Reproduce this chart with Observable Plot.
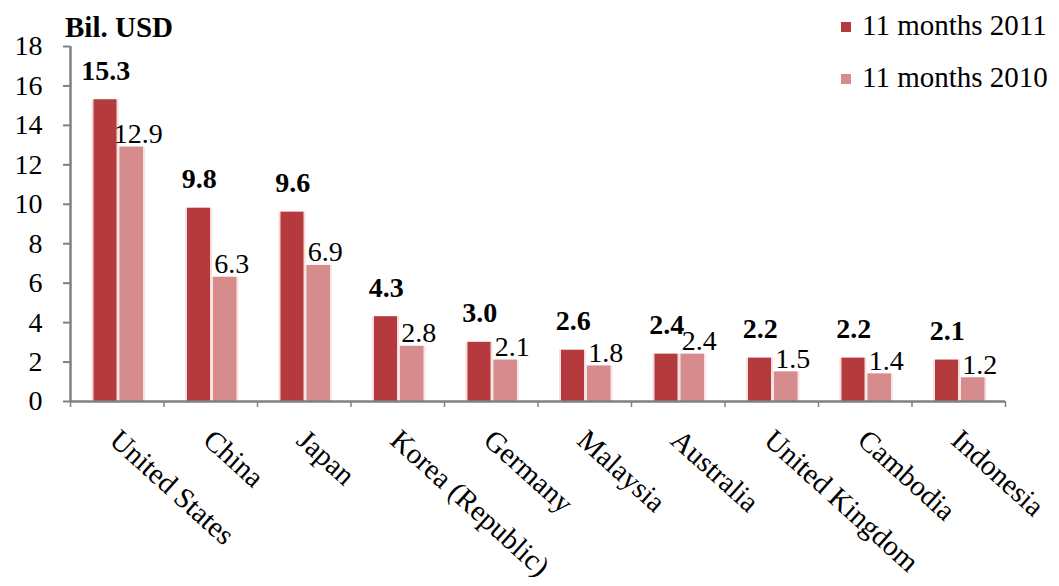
<!DOCTYPE html>
<html>
<head>
<meta charset="utf-8">
<script src="https://cdn.jsdelivr.net/npm/d3@7"></script>
<script src="https://cdn.jsdelivr.net/npm/@observablehq/plot@0.6"></script>
<style>
  body { margin: 0; background: #fff; }
  #wrap { position: relative; width: 1059px; height: 586px; font-family: "Liberation Serif", serif; color: #000; }
  #wrap svg { position: absolute; left: 0; top: 0; }
  .ov { position: absolute; line-height: 30px; font-size: 29px; white-space: nowrap; font-family: "Liberation Serif", serif; }
  .sw { position: absolute; width: 10px; height: 10px; }
</style>
</head>
<body>
<div id="wrap"></div>
<script>
const countries = ["United States", "China", "Japan", "Korea (Republic)", "Germany", "Malaysia", "Australia", "United Kingdom", "Cambodia", "Indonesia"];
const values2011 = [15.3, 9.8, 9.6, 4.3, 3.0, 2.6, 2.4, 2.2, 2.2, 2.1];
const values2010 = [12.9, 6.3, 6.9, 2.8, 2.1, 1.8, 2.4, 1.5, 1.4, 1.2];
const yTicks = [0, 2, 4, 6, 8, 10, 12, 14, 16, 18];
const seriesNames = ["11 months 2011", "11 months 2010"];
const seriesColors = ["#b43a3e", "#d68c8c"];
const unitLabel = "Bil. USD";

const FONT = "Liberation Serif";
const data = countries.map((c, i) => ({ country: c, i, v2011: values2011[i], v2010: values2010[i] }));
const boundaries = d3.range(countries.length + 1);

const plot = Plot.plot({
  width: 1059,
  height: 586,
  marginLeft: 70,
  marginRight: 54,
  marginTop: 46,
  marginBottom: 185,
  style: { fontFamily: FONT, fontSize: "27px", color: "#000", background: "transparent", overflow: "visible" },
  x: { domain: [0, countries.length], axis: null },
  y: { domain: [0, 18], axis: null },
  marks: [
    // soft glow behind bars
    Plot.rectY(data, { x1: "i", x2: d => d.i + 1, y: "v2011", fill: "#f7dede", insetLeft: 21.5, insetRight: 45 }),
    Plot.rectY(data, { x1: "i", x2: d => d.i + 1, y: "v2010", fill: "#f9e4e4", insetLeft: 47.5, insetRight: 18.5 }),
    Plot.rectY(data, { x1: "i", x2: d => d.i + 1, y: "v2011", fill: seriesColors[0], insetLeft: 23.5, insetRight: 47 }),
    Plot.rectY(data, { x1: "i", x2: d => d.i + 1, y: "v2010", fill: seriesColors[1], insetLeft: 49.5, insetRight: 20.5 }),
    // axes
    Plot.axisY({ ticks: yTicks, tickSize: 7, tickPadding: 21, label: null, stroke: "#808080", strokeWidth: 2, fontSize: 28, fontFamily: FONT }),
    Plot.axisX({ ticks: boundaries, tickFormat: () => "", tickSize: 6, label: null, stroke: "#808080", strokeWidth: 1.5 }),
    Plot.ruleX([0], { stroke: "#808080", strokeWidth: 2.5 }),
    Plot.ruleY([0], { stroke: "#808080", strokeWidth: 2.5 }),
    // value labels
    Plot.text(data, { x: d => d.i + 0.5, y: "v2011", text: d => d.v2011.toFixed(1), dx: -11.5, dy: -29, fontWeight: "bold", fontSize: 28, fontFamily: FONT, fill: "#000" }),
    Plot.text(data, { x: d => d.i + 0.5, y: "v2010", text: d => d.v2010.toFixed(1), dx: 21, dy: -13, fontSize: 28, fontFamily: FONT, fill: "#000" }),
    // category labels
    Plot.text(countries, { x: (d, i) => i + 0.5, frameAnchor: "bottom", text: d => d, rotate: 42, textAnchor: "start", lineAnchor: "middle", dx: -3, dy: 34, fontSize: 29, fontFamily: FONT, fill: "#000" })
  ]
});

const wrap = document.getElementById("wrap");
wrap.appendChild(plot);

const title = document.createElement("div");
title.className = "ov";
title.style.left = "65px";
title.style.top = "12px";
title.style.fontWeight = "bold";
title.textContent = unitLabel;
wrap.appendChild(title);

const legendTops = [10, 62];
seriesNames.forEach((name, k) => {
  const sw = document.createElement("div");
  sw.className = "sw";
  sw.style.left = "841px";
  sw.style.top = (legendTops[k] + 12) + "px";
  sw.style.background = seriesColors[k];
  wrap.appendChild(sw);
  const t = document.createElement("div");
  t.className = "ov";
  t.style.left = "862px";
  t.style.top = legendTops[k] + "px";
  t.textContent = name;
  wrap.appendChild(t);
});
</script>
</body>
</html>
